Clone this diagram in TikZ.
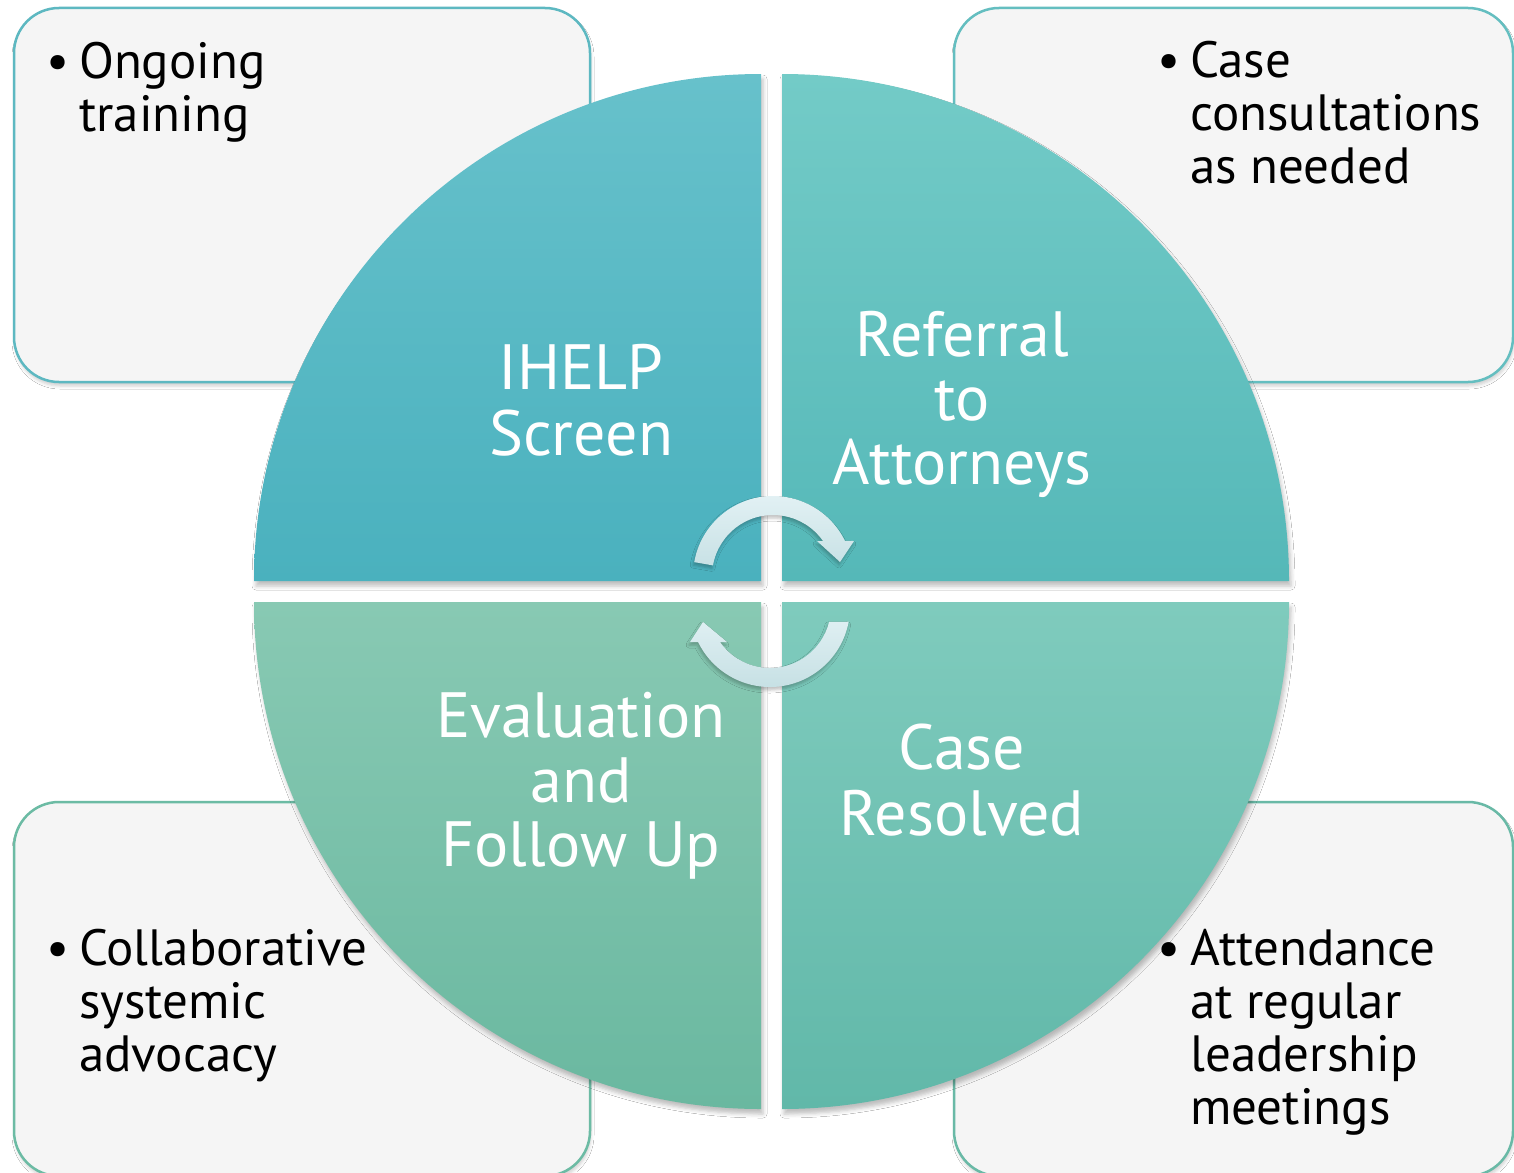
\documentclass[tikz,border=0pt]{standalone}
\usepackage{fontspec}
\setmainfont{PT Sans}
\usetikzlibrary{shadows.blur}
\definecolor{boxfill}{HTML}{F5F5F5}
\definecolor{tlBorder}{HTML}{5DB8C1}
\definecolor{trBorder}{HTML}{64BEC0}
\definecolor{blBorder}{HTML}{6CBBA4}
\definecolor{brBorder}{HTML}{69B9A6}
\definecolor{tlTop}{HTML}{67C1CB}
\definecolor{tlBot}{HTML}{4AB1BE}
\definecolor{trTop}{HTML}{73CBC7}
\definecolor{trBot}{HTML}{55B8B8}
\definecolor{blTop}{HTML}{88C9B3}
\definecolor{blBot}{HTML}{6AB8A0}
\definecolor{brTop}{HTML}{7FCBBD}
\definecolor{brBot}{HTML}{61B8A9}
\definecolor{arrowTop}{HTML}{E4F2F5}
\definecolor{arrowBot}{HTML}{C4DFE3}
\begin{document}
\begin{tikzpicture}[x=1pt,y=1pt,
  infobox/.style={fill=boxfill, line width=2.5pt, rounded corners=45pt,
    blur shadow={shadow xshift=1pt,shadow yshift=-4pt,shadow blur radius=3pt,shadow opacity=18}},
  quad/.style={blur shadow={shadow xshift=2pt,shadow yshift=-5pt,shadow blur radius=4pt,shadow opacity=25}},
  cyc/.style={top color=arrowTop, bottom color=arrowBot,
    blur shadow={shadow xshift=-1pt,shadow yshift=-3pt,shadow blur radius=3pt,shadow opacity=25}},
  boxtext/.style={anchor=north west, align=left, inner sep=0pt, text=black,
    font=\fontsize{51}{53}\selectfont},
  quadtext/.style={anchor=north, align=center, inner sep=0pt, text=white,
    font=\fontsize{64}{64}\selectfont}]
\useasboundingbox[fill=white] (0,0) rectangle (1514,-1172);

% information boxes
\draw[infobox, draw=tlBorder] (14,-8) rectangle (590,-382);
\draw[infobox, draw=trBorder] (954,-8) rectangle (1513,-382);
\draw[infobox, draw=blBorder] (14,-802) rectangle (590,-1176);
\draw[infobox, draw=brBorder] (954,-802) rectangle (1513,-1176);

% quadrants
\path[quad, top color=tlTop, bottom color=tlBot]
  (761,-581) -- (254,-581) arc[start angle=180,end angle=90,radius=507] -- cycle;
\path[quad, top color=trTop, bottom color=trBot]
  (782,-581) -- (782,-74) arc[start angle=90,end angle=0,radius=507] -- cycle;
\path[quad, top color=blTop, bottom color=blBot]
  (761,-602) -- (761,-1109) arc[start angle=270,end angle=180,radius=507] -- cycle;
\path[quad, top color=brTop, bottom color=brBot]
  (782,-602) -- (1289,-602) arc[start angle=0,end angle=-90,radius=507] -- cycle;

% circular arrows
\path[cyc] (773,-576) ++(170:80) arc[start angle=170,end angle=26,radius=80]
  -- (854,-541) -- (840,-562) -- (817,-541) -- (823,-541)
  arc[start angle=35,end angle=170,radius=61] -- cycle;
\path[cyc] (770,-607) ++(-10.6:80) arc[start angle=-10.6,end angle=-154,radius=80]
  -- (690,-642) -- (703,-622) -- (727,-642) -- (720,-642)
  arc[start angle=-145,end angle=-14.2,radius=61] -- cycle;

% quadrant labels
\node[quadtext] (ihelp) at (581,-344) {\strut IHELP\\Screen};
\node[quadtext] (referral) at (962,-311) {\strut Referral\\to\\Attorneys};
\node[quadtext] (evaluation) at (581,-692) {\strut Evaluation\\and\\Follow Up};
\node[quadtext] (resolved) at (962,-724) {\strut Case\\Resolved};

% box texts
\node[boxtext] (training) at (46,-41)
  {\strut\makebox[33pt][l]{•}Ongoing\\\hspace*{33pt}training};
\node[boxtext] (consult) at (1157,-40)
  {\strut\makebox[33pt][l]{•}Case\\\hspace*{33pt}consultations\\\hspace*{33pt}as needed};
\node[boxtext] (advocacy) at (46,-928)
  {\strut\makebox[33pt][l]{•}Collaborative\\\hspace*{33pt}systemic\\\hspace*{33pt}advocacy};
\node[boxtext] (attendance) at (1157,-928)
  {\strut\makebox[33pt][l]{•}Attendance\\\hspace*{33pt}at regular\\\hspace*{33pt}leadership\\\hspace*{33pt}meetings};
\end{tikzpicture}
\end{document}
